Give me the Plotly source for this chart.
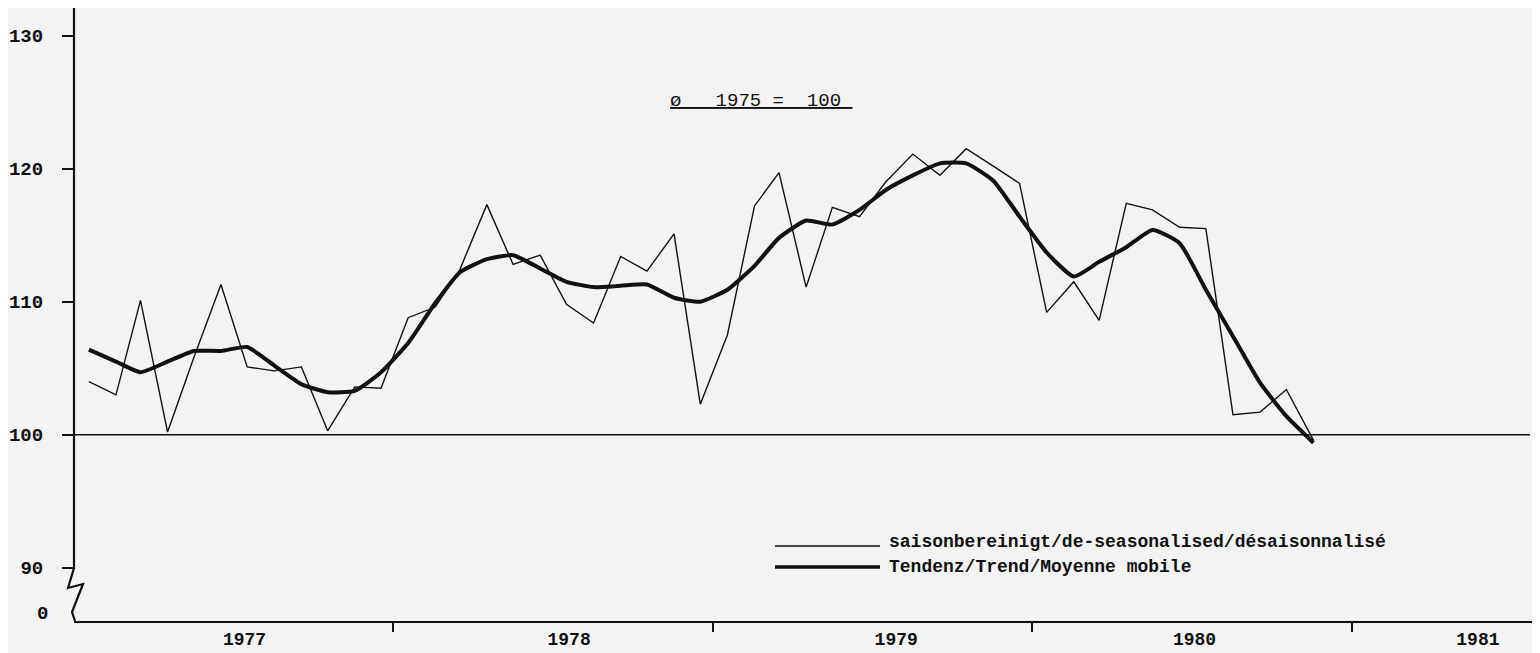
import pandas as pd
import plotly.graph_objects as go

# ---------------- data ----------------
months = pd.date_range("1977-01-01", periods=47, freq="MS") + pd.Timedelta(days=17)

seasonally_adjusted = [
    104.0, 103.0, 110.1, 100.2, 105.8, 111.3, 105.1, 104.8, 105.1, 100.3, 103.6, 103.5,   # 1977
    108.8, 109.6, 112.4, 117.3, 112.8, 113.5, 109.8, 108.4, 113.4, 112.3, 115.1, 102.3,   # 1978
    107.5, 117.2, 119.7, 111.1, 117.1, 116.4, 119.0, 121.1, 119.5, 121.5, 120.2, 118.9,   # 1979
    109.2, 111.5, 108.6, 117.4, 116.9, 115.6, 115.5, 101.5, 101.7, 103.4, 99.6,           # 1980
]

trend = [
    106.4, 105.5, 104.7, 105.5, 106.3, 106.3, 106.6, 105.2, 103.8, 103.2, 103.3, 104.7,
    106.9, 109.9, 112.2, 113.2, 113.5, 112.5, 111.5, 111.1, 111.2, 111.3, 110.3, 110.0,
    110.9, 112.7, 114.8, 116.1, 115.8, 116.9, 118.4, 119.5, 120.4, 120.4, 119.1, 116.4,
    113.7, 111.9, 113.0, 114.1, 115.4, 114.4, 110.9, 107.4, 103.9, 101.4, 99.4,
]

year_labels = ["1977", "1978", "1979", "1980", "1981"]
y_ticks = [90, 100, 110, 120, 130]
y_tick_text = ["90", "100", "110", "120", "130"]

name_sa = "saisonbereinigt/de-seasonalised/désaisonnalisé"
name_trend = "Tendenz/Trend/Moyenne mobile"
base_text = "ø\u00a0\u00a0\u00a01975\u00a0=\u00a0\u00a0100\u00a0"

# ---------------- layout helpers ----------------
# page has an 8px body margin: the figure starts at page (8, 8)
OFF = 8
W, H = 1540 - OFF, 653 - OFF
L, R, T, B = 74 - OFF, 0, 8 - OFF, 32
PW, PH = W - L - R, H - T - B
AX_X, AX_Y = 74, 621  # page pixel position of the axes corner


def px(x):
    return (x - AX_X) / PW


def py(y):
    return (AX_Y - y) / PH


FONT = "Liberation Mono, DejaVu Sans Mono, monospace"
INK = "#111111"
BG = "#f3f3f3"

fig = go.Figure()
fig.add_trace(go.Scatter(x=months, y=seasonally_adjusted, mode="lines", name=name_sa,
                         line=dict(color=INK, width=1.4), showlegend=False))
fig.add_trace(go.Scatter(x=months, y=trend, mode="lines", name=name_trend,
                         line=dict(color=INK, width=4, shape="spline", smoothing=0.5),
                         showlegend=False))

label_pos = ["1977-07-15", "1978-07-21", "1979-07-30", "1980-07-05", "1981-05-25"]
year_bounds = ["1978-01-01", "1979-01-01", "1980-01-01", "1981-01-01"]

fig.update_xaxes(
    type="date", range=["1977-01-01", "1981-08-04"],
    showline=True, linewidth=2.2, linecolor=INK,
    tickmode="array", tickvals=label_pos, ticktext=[f"<b>{t}</b>" for t in year_labels],
    ticks="",
    tickfont=dict(family=FONT, size=18, color=INK),
    showgrid=False, zeroline=False,
    minor=dict(tickmode="array", tickvals=year_bounds, ticks="outside",
               ticklen=9, tickwidth=1.5, tickcolor=INK, showgrid=False),
)
fig.update_yaxes(
    range=[86.0, 132.08], showline=False, showgrid=False, zeroline=False,
    tickmode="array", tickvals=y_ticks, ticktext=[f"<b>{t}</b>" for t in y_tick_text],
    ticks="outside", ticklen=11, tickwidth=2, tickcolor=INK,
    tickfont=dict(family=FONT, size=19, color=INK),
    ticklabelstandoff=15,
)

shapes = []
# y axis line with break
path = (f"M {px(74)},{py(8)} L {px(74)},{py(568)} L {px(68)},{py(588)} "
        f"L {px(83)},{py(584)} L {px(72)},{py(612)} L {px(75)},{py(621)}")
shapes.append(dict(type="path", path=path, xref="paper", yref="paper",
                   line=dict(color=INK, width=2.2)))
# reference line at 100
shapes.append(dict(type="line", xref="paper", yref="y", x0=0, x1=px(1530), y0=100, y1=100,
                   line=dict(color=INK, width=1.5)))
# legend samples
shapes.append(dict(type="line", xref="paper", yref="paper", x0=px(775), x1=px(880),
                   y0=py(546), y1=py(546), line=dict(color=INK, width=1.4)))
shapes.append(dict(type="line", xref="paper", yref="paper", x0=px(775), x1=px(880),
                   y0=py(567), y1=py(567), line=dict(color=INK, width=3.5)))

annotations = [
    dict(text="<b>0</b>", x=px(42), y=py(614), xref="paper", yref="paper", showarrow=False,
         xanchor="center", yanchor="middle", font=dict(family=FONT, size=19, color=INK)),
    dict(text=f"<u>{base_text}</u>", x=px(668), y=py(101), xref="paper", yref="paper",
         showarrow=False, xanchor="left", yanchor="middle",
         font=dict(family=FONT, size=19, color=INK)),
    dict(text=f"<b>{name_sa}</b>", x=px(887), y=py(542), xref="paper", yref="paper",
         showarrow=False, xanchor="left", yanchor="middle",
         font=dict(family=FONT, size=18, color=INK)),
    dict(text=f"<b>{name_trend}</b>", x=px(887), y=py(567), xref="paper", yref="paper",
         showarrow=False, xanchor="left", yanchor="middle",
         font=dict(family=FONT, size=18, color=INK)),
]

fig.update_layout(
    width=W, height=H, margin=dict(l=L, r=R, t=T, b=B, pad=0),
    paper_bgcolor=BG, plot_bgcolor=BG,
    shapes=shapes, annotations=annotations, showlegend=False,
)

fig.write_html("out.html")
